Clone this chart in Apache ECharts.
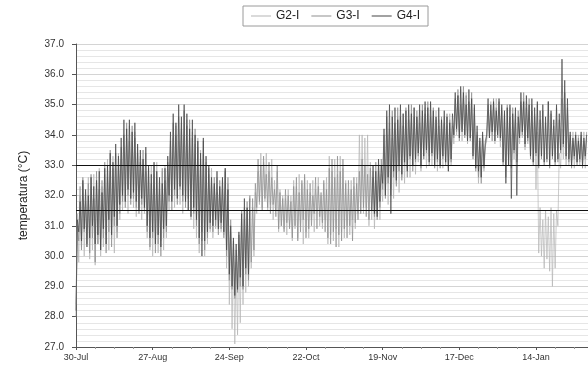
<!DOCTYPE html>
<html>
<head>
<meta charset="utf-8">
<script src="https://cdn.jsdelivr.net/npm/echarts@6/dist/echarts.min.js"></script>
<style>
  html, body { margin: 0; padding: 0; background: #fff; }
  #chart { width: 588px; height: 372px; }
</style>
</head>
<body>
<div id="chart"></div>
<script>
// Day 0 = 30-Jul; one daily low and one daily high per sensor.
const tickLabels = ['30-Jul', '27-Aug', '24-Sep', '22-Oct', '19-Nov', '17-Dec', '14-Jan'];
const seriesNames = ['G2-I', 'G3-I', 'G4-I'];
const limits = [33.0, 31.5];

const g2Hi = [
  31.4, 32.0, 32.4, 32.1, 32.6, 32.3, 32.7, 32.4, 32.9, 32.3,
  32.7, 33.2, 32.8, 33.3, 32.9, 33.4, 33.2, 33.6, 33.9, 34.3,
  33.8, 34.1, 33.6, 33.3, 33.0, 33.4, 32.6, 33.0, 32.7, 33.1,
  32.5, 32.8, 33.0, 32.6, 33.5, 33.9, 34.3, 33.8, 34.4, 34.0,
  34.5, 33.9, 34.1, 33.7, 33.9, 33.5, 33.4, 33.1, 32.7, 32.9,
  32.3, 32.6, 32.2, 32.5, 32.9, 32.4, 30.8, 30.2, 29.8, 30.4,
  31.2, 31.6, 31.4, 31.9, 31.6, 32.1, 32.8, 33.4, 33.1, 33.4,
  32.8, 33.2, 32.5, 32.8, 32.2, 32.0, 31.9, 32.2, 32.0, 32.5,
  32.3, 32.7, 32.4, 32.6, 32.5, 32.1, 32.5, 32.2, 32.6, 32.0,
  32.4, 32.6, 33.3, 32.8, 33.2, 32.7, 33.3, 32.9, 32.5, 32.2,
  32.5, 32.3, 32.6, 34.0, 34.0, 33.9, 34.0, 33.1, 32.8, 32.5,
  33.0, 32.7, 33.4, 34.0, 34.4, 33.9, 34.2, 34.6, 34.3, 34.7,
  34.5, 34.8, 34.4, 34.9, 34.5, 34.8, 34.6, 34.9, 34.7, 35.0,
  34.6, 34.8, 34.5, 34.2, 34.6, 34.3, 34.7, 34.4, 35.0, 35.3,
  35.5, 35.2, 35.4, 35.0, 35.2, 34.7, 34.1, 33.6, 33.9, 33.7,
  34.8, 35.1, 34.9, 35.2, 34.8, 34.9, 34.6, 34.8, 34.9, 34.5,
  34.7, 34.4, 35.0, 35.2, 35.1, 34.8, 35.0, 34.7, 34.1, 31.6,
  31.2, 31.5, 31.3, 31.6, 31.4, 31.5, 33.4, 34.2, 35.0, 34.8,
  33.9, 34.1, 33.8, 34.0, 33.9, 34.1, 33.9
];
const g2Lo = [
  28.4, 29.8, 30.3, 30.0, 30.6, 29.9, 30.2, 29.7, 30.4, 30.0,
  30.3, 30.7, 30.2, 30.6, 30.1, 30.8, 31.2, 31.5, 31.8, 31.4,
  31.9, 31.6, 31.3, 31.6, 31.2, 31.4, 30.6, 30.2, 30.0, 30.4,
  30.1, 30.5, 30.2, 30.6, 31.5, 31.9, 31.6, 32.0, 31.7, 31.4,
  31.8, 31.5, 31.2, 30.9, 30.6, 30.1, 30.5, 30.0, 30.4, 30.8,
  30.6, 30.9, 31.0, 30.8, 30.7, 29.6, 28.4, 27.6, 27.1, 27.4,
  27.8, 28.4, 28.8, 29.0, 29.6, 30.0, 31.4, 31.7, 31.6, 31.8,
  31.5, 31.7, 31.2, 31.5, 30.8, 31.0, 30.9, 30.7, 31.0, 30.5,
  30.9, 30.6, 31.0, 30.4, 30.8, 30.6, 31.2, 30.8, 31.5, 31.0,
  30.9, 31.2, 30.4, 30.7, 30.5, 30.9, 30.3, 30.8, 30.6, 31.0,
  30.7, 31.2, 30.9, 31.4, 31.5, 31.4, 31.6, 31.0, 31.2, 30.9,
  31.4, 31.2, 31.8, 32.0, 31.7, 32.2, 31.9, 32.4, 32.1, 32.6,
  32.4, 32.9, 32.6, 33.0, 32.7, 33.1, 32.8, 33.2, 32.9, 33.3,
  33.0, 33.2, 32.8, 33.0, 32.9, 33.1, 32.8, 33.0, 33.7, 34.0,
  34.1, 33.8, 34.0, 33.7, 33.9, 33.4, 33.0, 32.4, 32.6, 32.8,
  33.8, 33.9, 34.0, 33.7, 33.9, 33.6, 33.2, 32.8, 33.0, 33.1,
  33.2, 33.3, 33.7, 33.9, 33.5, 33.7, 33.3, 33.1, 32.2, 30.1,
  30.0, 29.6, 29.9, 29.5, 29.0, 29.6, 31.0, 32.9, 33.2, 33.0,
  33.0, 33.2, 32.9, 33.1, 33.0, 33.2, 32.9
];

const g3Hi = [
  31.0, 32.3, 32.6, 31.8, 32.4, 32.7, 31.9, 32.8, 32.2, 32.5,
  33.1, 32.6, 33.5, 32.9, 33.4, 33.0, 33.6, 34.0, 34.4, 33.8,
  34.3, 33.9, 33.4, 33.1, 33.5, 32.8, 32.9, 32.4, 33.0, 32.6,
  32.2, 32.9, 32.5, 33.1, 33.8, 34.4, 34.0, 34.6, 34.2, 34.8,
  34.3, 34.5, 33.9, 34.2, 33.6, 33.2, 33.8, 33.0, 32.9, 32.4,
  32.6, 32.1, 32.5, 32.2, 32.8, 32.6, 31.2, 30.5, 30.2, 30.7,
  31.5, 31.2, 31.8, 31.5, 31.9, 32.4, 33.2, 33.0, 33.3, 32.7,
  33.1, 32.6, 32.2, 33.0, 32.1, 31.9, 32.2, 32.0, 31.8, 32.3,
  32.6, 32.1, 32.5, 32.7, 32.2, 32.4, 32.0, 32.6, 32.3, 32.1,
  32.5, 32.2, 32.9, 33.2, 32.6, 33.3, 32.8, 33.2, 32.4, 32.5,
  32.2, 32.6, 32.4, 32.8, 33.2, 33.0, 32.7, 32.9, 32.6, 33.1,
  32.8, 33.2, 34.0, 34.6, 34.2, 34.8, 34.4, 34.9, 34.6, 34.3,
  34.9, 34.5, 35.0, 34.6, 34.8, 34.4, 35.0, 34.7, 35.1, 34.6,
  34.9, 34.5, 34.3, 34.6, 34.4, 34.7, 34.5, 34.3, 35.2, 35.5,
  35.0, 35.6, 35.3, 35.1, 35.4, 34.9, 34.0, 33.8, 34.0, 33.6,
  35.0, 34.8, 35.2, 34.9, 35.1, 34.8, 34.7, 35.0, 34.6, 34.9,
  34.5, 34.8, 35.1, 35.4, 34.9, 35.2, 34.8, 34.6, 35.0, 34.5,
  34.8, 34.4, 35.1, 34.7, 34.3, 34.9, 34.5, 35.2, 35.4, 34.9,
  34.0, 33.8, 34.1, 33.9, 34.0, 33.8, 34.1
];
const g3Lo = [
  28.0, 30.5, 30.2, 30.8, 30.4, 30.1, 30.6, 29.8, 30.4, 30.2,
  30.6, 30.1, 30.8, 30.3, 31.0, 30.6, 31.4, 31.8, 31.6, 32.0,
  31.7, 31.9, 31.6, 31.4, 31.7, 31.5, 30.8, 30.3, 30.6, 30.1,
  30.4, 30.0, 30.6, 30.8, 31.8, 31.5, 32.0, 31.7, 32.2, 31.8,
  31.6, 31.9, 31.5, 31.4, 31.0, 30.4, 30.8, 30.2, 30.6, 30.9,
  30.8, 31.0, 30.7, 30.9, 30.6, 30.0, 29.2, 28.9, 28.6, 28.8,
  29.0, 28.9, 29.4, 29.2, 29.8, 30.2, 31.6, 31.8, 31.5, 31.9,
  31.6, 31.4, 31.7, 31.3, 30.9, 31.0, 30.8, 31.1, 30.9, 30.6,
  31.0, 30.5, 30.8, 31.2, 30.6, 30.9, 31.0, 31.4, 30.9, 31.3,
  31.1, 30.8, 30.6, 30.4, 30.8, 30.3, 30.7, 30.5, 30.9, 30.6,
  31.0, 30.5, 31.1, 31.2, 31.4, 31.6, 31.3, 31.2, 31.5, 31.3,
  31.2, 31.6, 32.2, 31.9, 32.4, 32.0, 32.6, 32.3, 32.8, 32.5,
  33.0, 32.6, 33.2, 32.8, 33.1, 33.3, 32.9, 33.2, 33.4, 33.0,
  33.3, 32.9, 33.1, 32.9, 33.2, 33.0, 32.9, 33.1, 33.9, 34.1,
  33.8, 34.2, 33.9, 34.0, 33.8, 33.2, 32.8, 32.6, 32.4, 32.9,
  33.9, 34.0, 33.8, 34.1, 33.9, 33.8, 33.0, 32.6, 33.2, 32.9,
  33.4, 33.1, 33.9, 34.0, 33.6, 33.8, 33.2, 33.0, 33.3, 32.9,
  33.2, 33.0, 33.1, 32.9, 33.2, 33.0, 33.1, 33.4, 33.6, 33.2,
  33.1, 32.9, 33.2, 33.0, 33.1, 32.9, 33.2
];

// G4-I: logged from 30-Jul to 1-Oct, then again from 14-Nov onwards.
const g4StartA = 0;
const g4HiA = [
  31.2, 31.8, 32.5, 32.2, 32.0, 32.6, 32.3, 32.5, 32.8, 32.1,
  32.9, 33.0, 33.4, 33.1, 33.7, 33.3, 33.9, 34.5, 34.2, 34.5,
  34.1, 34.4, 33.7, 33.5, 33.2, 33.6, 33.0, 32.7, 33.1, 32.8,
  32.6, 32.4, 32.9, 33.3, 34.1, 34.7, 34.4, 35.0, 34.6, 35.0,
  34.7, 34.2, 34.5, 34.0, 33.8, 33.4, 33.9, 33.3, 33.0, 32.6,
  32.4, 32.8, 32.3, 32.6, 32.9, 32.2, 31.0, 30.6, 30.4, 30.8,
  31.4, 31.9, 31.6, 32.0
];
const g4LoA = [
  28.2, 30.8, 30.5, 30.9, 30.3, 30.6, 31.0, 30.4, 30.7, 30.2,
  30.9, 30.4, 31.2, 30.7, 31.3, 31.0, 31.7, 32.0, 31.8, 32.2,
  31.9, 32.1, 31.8, 31.5, 31.9, 31.6, 31.0, 30.6, 30.8, 30.4,
  30.7, 30.3, 30.9, 31.0, 32.0, 31.8, 32.2, 31.9, 32.3, 32.0,
  31.8, 31.5, 31.3, 31.6, 31.2, 30.6, 30.0, 30.5, 30.8, 31.1,
  31.0, 31.2, 30.9, 31.1, 30.8, 30.2, 29.4, 29.0, 28.7, 28.9,
  29.3, 29.0, 29.6, 29.4
];
const g4StartB = 108;
const g4HiB = [
  33.0, 32.8, 33.2, 33.0, 34.2, 34.8, 35.0, 34.6, 34.9, 34.5, 35.0, 34.7,
  34.8, 35.0, 34.7, 34.9, 34.6, 35.0, 34.8, 35.1, 34.9, 35.1,
  34.8, 34.6, 34.9, 34.5, 34.8, 34.6, 34.4, 34.7, 35.4, 35.3,
  35.6, 35.4, 35.0, 35.5, 35.2, 35.0, 34.3, 33.9, 34.1, 33.8,
  35.2, 35.0, 35.1, 34.8, 35.2, 35.0, 34.8, 34.9, 35.0, 34.7,
  34.9, 34.6, 35.4, 35.1, 35.3, 35.0, 35.2, 34.9, 35.1, 34.8,
  35.0, 34.6, 35.1, 34.8, 34.5, 35.0, 34.7, 36.5, 35.8, 35.2,
  34.1, 33.9, 34.0, 33.8, 34.1, 33.9, 34.0
];
const g4LoB = [
  31.5, 31.4, 31.3, 31.8, 32.4, 32.0, 32.6, 31.4, 32.8, 32.5, 33.0, 32.7,
  33.1, 32.8, 33.3, 33.0, 33.2, 33.4, 33.0, 33.3, 33.5, 33.1,
  33.4, 33.0, 33.2, 33.0, 33.3, 33.1, 32.8, 33.2, 34.0, 34.2,
  33.9, 34.1, 34.0, 33.8, 33.9, 33.3, 32.9, 32.8, 32.6, 33.0,
  34.0, 33.9, 34.1, 33.8, 34.0, 33.9, 33.1, 32.4, 33.0, 31.9,
  33.5, 32.0, 33.9, 34.1, 33.7, 33.9, 33.3, 33.1, 33.4, 33.0,
  33.3, 33.1, 33.2, 33.0, 33.3, 33.1, 33.2, 33.5, 33.7, 33.3,
  33.2, 33.0, 33.3, 33.1, 33.2, 33.0, 33.3
];

// Interleave each day's low (start of day) and high (midday) into [day, °C] points.
function dailyTrace(hi, lo, start) {
  const pts = [];
  for (let i = 0; i < hi.length; i++) {
    pts.push([start + i, lo[i]]);
    pts.push([start + i + 0.5, hi[i]]);
  }
  return pts;
}

const colors = { 'G2-I': '#b4b4b4', 'G3-I': '#8e8e8e', 'G4-I': '#454545' };
const font = 'Liberation Sans, Arial, sans-serif';

function lineSeries(name, data) {
  return {
    name: name, type: 'line', data: data,
    showSymbol: false, symbol: 'none', animation: false,
    lineStyle: { width: 0.7, color: colors[name] },
    itemStyle: { color: colors[name] }
  };
}

const series = [
  lineSeries('G2-I', dailyTrace(g2Hi, g2Lo, 0)),
  lineSeries('G3-I', dailyTrace(g3Hi, g3Lo, 0)),
  lineSeries('G4-I', dailyTrace(g4HiA, g4LoA, g4StartA)),
  lineSeries('G4-I', dailyTrace(g4HiB, g4LoB, g4StartB))
];
// Reference limits as horizontal black rules.
series[3].markLine = {
  silent: true, symbol: 'none', animation: false,
  label: { show: false },
  lineStyle: { color: '#111', width: 1, type: 'solid' },
  data: limits.map(v => ({ yAxis: v }))
};

const chart = echarts.init(document.getElementById('chart'), null, { renderer: 'canvas' });
chart.setOption({
  animation: false,
  backgroundColor: '#fff',
  textStyle: { fontFamily: font },
  legend: {
    data: seriesNames,
    left: 243, top: 6,
    padding: [4, 8, 4, 8],
    borderColor: '#9a9a9a', borderWidth: 1,
    itemGap: 12, itemWidth: 20, itemHeight: 1,
    icon: 'rect',
    textStyle: { fontSize: 12, color: '#222', fontFamily: font }
  },
  grid: { left: 76, top: 44, right: 0, bottom: 25, containLabel: false },
  xAxis: {
    type: 'value', min: 0, max: 187, interval: 28,
    axisLine: { show: true, lineStyle: { color: '#555' } },
    axisTick: { show: true, length: 3, lineStyle: { color: '#555' } },
    minorTick: { show: true, splitNumber: 4, length: 2, lineStyle: { color: '#999' } },
    splitLine: { show: false },
    axisLabel: {
      fontSize: 9, color: '#333', margin: 6, showMaxLabel: false,
      formatter: v => tickLabels[Math.round(v / 28)] || ''
    }
  },
  yAxis: {
    type: 'value', min: 27, max: 37, interval: 1,
    name: 'temperatura (°C)', nameLocation: 'middle', nameGap: 46, nameRotate: 90,
    nameTextStyle: { fontSize: 12, color: '#222', fontFamily: font },
    axisLine: { show: true, lineStyle: { color: '#555' } },
    axisTick: { show: true, length: 4, lineStyle: { color: '#555' } },
    axisLabel: { fontSize: 10, color: '#333', margin: 12, formatter: v => v.toFixed(1) },
    splitLine: { show: true, lineStyle: { color: '#d4d4d4', width: 1 } },
    minorTick: { show: false, splitNumber: 5 },
    minorSplitLine: { show: true, lineStyle: { color: '#e6e6e6', width: 1 } }
  },
  series: series
});
</script>
</body>
</html>
